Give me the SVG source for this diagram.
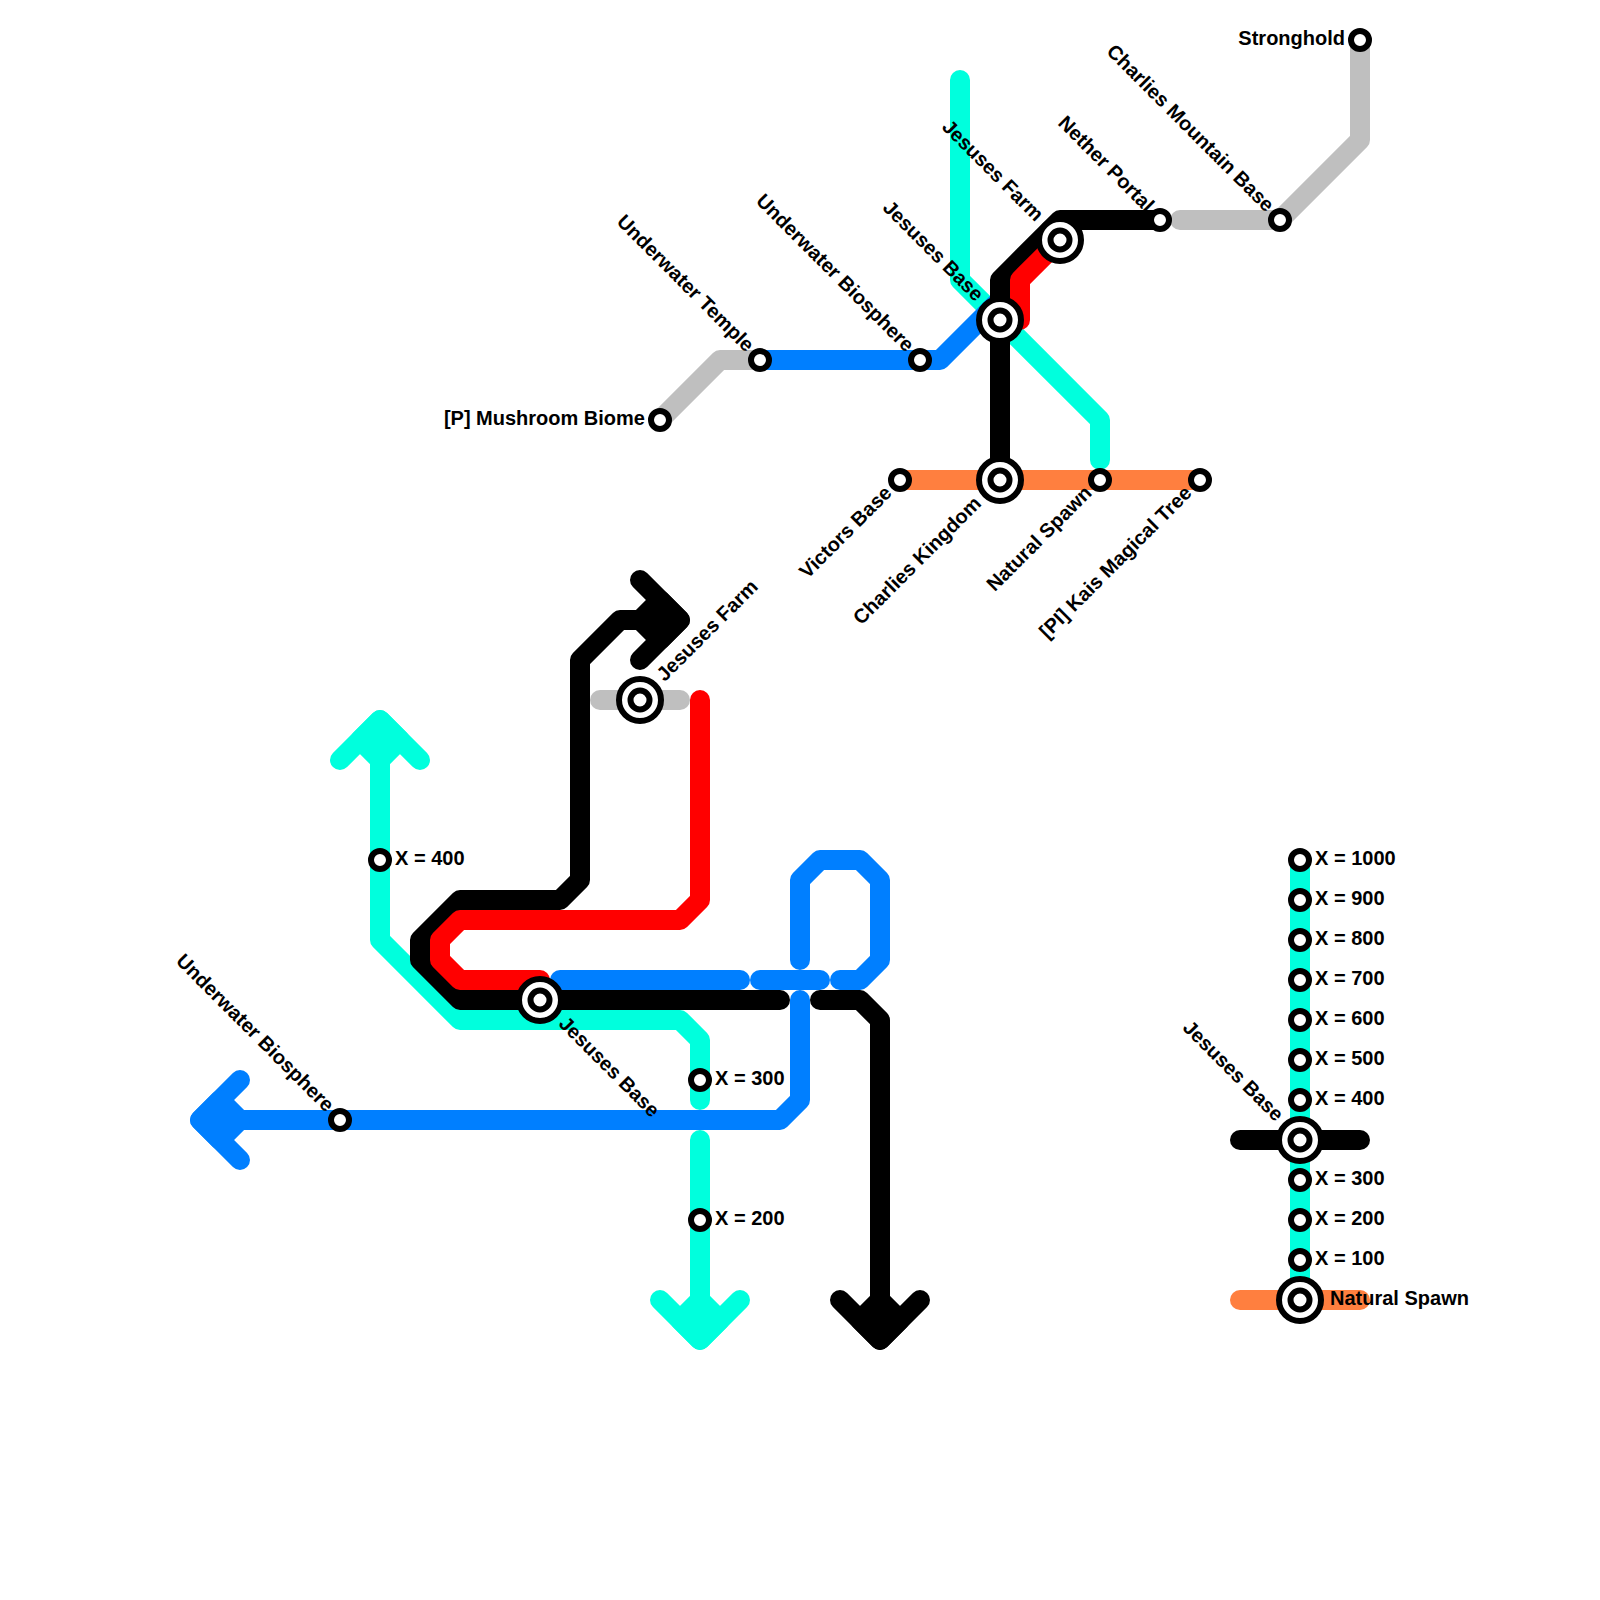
<svg xmlns="http://www.w3.org/2000/svg" width="1600" height="1600" viewBox="0 0 1600 1600">
<style>
.l{fill:none;stroke-width:20;stroke-linecap:round;stroke-linejoin:round}
.h{stroke-width:20;stroke-linejoin:round}
.o{stroke:#ff7f3f}.t{stroke:#00ffdd}.b{stroke:#007fff}.g{stroke:#bfbfbf}.r{stroke:#ff0000}.k{stroke:#000}
.ht{fill:#00ffdd}.hb{fill:#007fff}.hk{fill:#000}
circle{fill:#fff;stroke:#000;stroke-width:6}
text{font-family:"Liberation Sans",Arial,sans-serif;font-size:20px;font-weight:700;fill:#000}
.e{text-anchor:end}
</style>
<rect width="1600" height="1600" fill="#fff"/>
<g id="connectors">
<path class="l o" d="M900 480H1200"/>
<path class="l o" d="M1240 1300H1360"/>
<path class="l t" d="M960 80V280L1100 420V460"/>
<path class="l t" d="M1300 860V1300"/>
<path class="l t" d="M340 760L380 720L420 760M380 720V940L460 1020H680L700 1040V1100"/>
<polygon class="h t ht" points="380,720 360,740 380,760 400,740"/>
<path class="l t" d="M700 1140V1340M660 1300L700 1340L740 1300"/>
<polygon class="h t ht" points="700,1340 680,1320 700,1300 720,1320"/>
<path class="l b" d="M760 360H940L1000 300"/>
<path class="l b" d="M240 1080L200 1120L240 1160M200 1120H780L800 1100V1000"/>
<polygon class="h b hb" points="200,1120 220,1100 240,1120 220,1140"/>
<path class="l b" d="M560 980H740"/>
<path class="l b" d="M760 980H820"/>
<path class="l b" d="M840 980H860L880 960V880L860 860H820L800 880V960"/>
<path class="l g" d="M660 420L720 360H760"/>
<path class="l g" d="M1180 220H1280L1360 140V40"/>
<path class="l g" d="M600 700H680"/>
<path class="l k" d="M1000 480V280L1060 220H1160"/>
<path class="l k" d="M1240 1140H1360"/>
<path class="l k" d="M640 580L680 620L640 660M680 620H620L580 660V880L560 900H460L420 940V960L460 1000H780"/>
<polygon class="h k hk" points="680,620 660,600 640,620 660,640"/>
<path class="l k" d="M820 1000H860L880 1020V1340M840 1300L880 1340L920 1300"/>
<polygon class="h k hk" points="880,1340 860,1320 880,1300 900,1320"/>
<path class="l r" d="M1060 240L1020 280V320"/>
<path class="l r" d="M700 700V900L680 920H460L440 940V960L460 980H540"/>
</g>
<g id="mushroom"><circle cx="660" cy="420" r="9"/><text class="e" x="645" y="425">[P] Mushroom Biome</text></g>
<g id="underwater-temple"><circle cx="760" cy="360" r="9"/><text class="e" transform="translate(760 360) rotate(45)" x="-15" y="5">Underwater Temple</text></g>
<g id="underwater-biosphere-n"><circle cx="920" cy="360" r="9"/><text class="e" transform="translate(920 360) rotate(45)" x="-15" y="5">Underwater Biosphere</text></g>
<g id="jesuses-base-n"><circle cx="1000" cy="320" r="21"/><circle cx="1000" cy="320" r="9.5"/><text class="e" transform="translate(1000 320) rotate(45)" x="-30" y="5">Jesuses Base</text></g>
<g id="jesuses-farm-n"><circle cx="1060" cy="240" r="21"/><circle cx="1060" cy="240" r="9.5"/><text class="e" transform="translate(1060 240) rotate(45)" x="-30" y="5">Jesuses Farm</text></g>
<g id="nether-portal"><circle cx="1160" cy="220" r="9"/><text class="e" transform="translate(1160 220) rotate(45)" x="-15" y="5">Nether Portal</text></g>
<g id="charlies-mountain"><circle cx="1280" cy="220" r="9"/><text class="e" transform="translate(1280 220) rotate(45)" x="-15" y="5">Charlies Mountain Base</text></g>
<g id="stronghold"><circle cx="1360" cy="40" r="9"/><text class="e" x="1345" y="45">Stronghold</text></g>
<g id="victors-base"><circle cx="900" cy="480" r="9"/><text class="e" transform="translate(900 480) rotate(-45)" x="-15" y="5">Victors Base</text></g>
<g id="charlies-kingdom"><circle cx="1000" cy="480" r="21"/><circle cx="1000" cy="480" r="9.5"/><text class="e" transform="translate(1000 480) rotate(-45)" x="-30" y="5">Charlies Kingdom</text></g>
<g id="natural-spawn-n"><circle cx="1100" cy="480" r="9"/><text class="e" transform="translate(1100 480) rotate(-45)" x="-15" y="5">Natural Spawn</text></g>
<g id="kais-tree"><circle cx="1200" cy="480" r="9"/><text class="e" transform="translate(1200 480) rotate(-45)" x="-15" y="5">[PI] Kais Magical Tree</text></g>
<g id="jesuses-farm-s"><circle cx="640" cy="700" r="21"/><circle cx="640" cy="700" r="9.5"/><text transform="translate(640 700) rotate(-45)" x="30" y="5">Jesuses Farm</text></g>
<g id="jesuses-base-s"><circle cx="540" cy="1000" r="21"/><circle cx="540" cy="1000" r="9.5"/><text transform="translate(540 1000) rotate(45)" x="30" y="5">Jesuses Base</text></g>
<g id="underwater-biosphere-s"><circle cx="340" cy="1120" r="9"/><text class="e" transform="translate(340 1120) rotate(45)" x="-15" y="5">Underwater Biosphere</text></g>
<g id="x400-w"><circle cx="380" cy="860" r="9"/><text x="395" y="865">X = 400</text></g>
<g id="x300-w"><circle cx="700" cy="1080" r="9"/><text x="715" y="1085">X = 300</text></g>
<g id="x200-w"><circle cx="700" cy="1220" r="9"/><text x="715" y="1225">X = 200</text></g>
<g id="x1000"><circle cx="1300" cy="860" r="9"/><text x="1315" y="865">X = 1000</text></g>
<g id="x900"><circle cx="1300" cy="900" r="9"/><text x="1315" y="905">X = 900</text></g>
<g id="x800"><circle cx="1300" cy="940" r="9"/><text x="1315" y="945">X = 800</text></g>
<g id="x700"><circle cx="1300" cy="980" r="9"/><text x="1315" y="985">X = 700</text></g>
<g id="x600"><circle cx="1300" cy="1020" r="9"/><text x="1315" y="1025">X = 600</text></g>
<g id="x500"><circle cx="1300" cy="1060" r="9"/><text x="1315" y="1065">X = 500</text></g>
<g id="x400"><circle cx="1300" cy="1100" r="9"/><text x="1315" y="1105">X = 400</text></g>
<g id="jesuses-base-e"><circle cx="1300" cy="1140" r="21"/><circle cx="1300" cy="1140" r="9.5"/><text class="e" transform="translate(1300 1140) rotate(45)" x="-30" y="5">Jesuses Base</text></g>
<g id="x300"><circle cx="1300" cy="1180" r="9"/><text x="1315" y="1185">X = 300</text></g>
<g id="x200"><circle cx="1300" cy="1220" r="9"/><text x="1315" y="1225">X = 200</text></g>
<g id="x100"><circle cx="1300" cy="1260" r="9"/><text x="1315" y="1265">X = 100</text></g>
<g id="natural-spawn-e"><circle cx="1300" cy="1300" r="21"/><circle cx="1300" cy="1300" r="9.5"/><text x="1330" y="1305">Natural Spawn</text></g>
</svg>
